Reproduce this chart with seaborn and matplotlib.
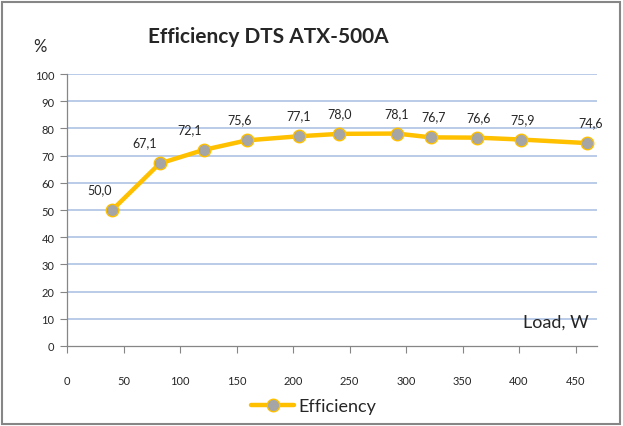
import matplotlib
matplotlib.use("Agg")
import matplotlib.pyplot as plt
import seaborn as sns
import pandas as pd
from matplotlib.patches import Rectangle

# Data
load_w = [40, 82, 121, 159, 205, 241, 292, 322, 363, 402, 460]
efficiency = [50.0, 67.1, 72.1, 75.6, 77.1, 78.0, 78.1, 76.7, 76.6, 75.9, 74.6]
series_name = "Efficiency"
x_ticks = [0, 50, 100, 150, 200, 250, 300, 350, 400, 450]
y_ticks = [0, 10, 20, 30, 40, 50, 60, 70, 80, 90, 100]

# label horizontal nudges (points), layout only
label_dx = [-9, -11, -10, -5, 0, 0, 0, 2, 1, 1, 3]

df = pd.DataFrame({"Load": load_w, "Efficiency": efficiency})

sns.set_style("white")
plt.rcParams["font.family"] = ["Lato", "DejaVu Sans"]

fig = plt.figure(figsize=(6.23, 4.27), dpi=100)
ax = fig.add_axes([67/623, 1-347/427, (597-67)/623, (347-75)/427])

gold = "#FFC000"
sns.lineplot(data=df, x="Load", y="Efficiency", ax=ax, color=gold, lw=3.2,
             marker="o", markersize=9, markerfacecolor="#A5A5A5",
             markeredgecolor=gold, markeredgewidth=1.0, label=series_name,
             zorder=3)

ax.set_xlim(0, 469)
ax.set_ylim(0, 100)
ax.set_xticks(x_ticks)
ax.set_yticks(y_ticks)
ax.set_xticklabels([str(t) for t in x_ticks], fontsize=8)
ax.set_yticklabels([str(t) for t in y_ticks], fontsize=8)
ax.set_xlabel("")
ax.set_ylabel("")

for y in y_ticks[1:]:
    ax.axhline(y, color="#B4C7E7", lw=1.3, zorder=1)

for s in ["top", "right"]:
    ax.spines[s].set_visible(False)
for s in ["left", "bottom"]:
    ax.spines[s].set_color("#868686")
    ax.spines[s].set_linewidth(0.9)

ax.tick_params(axis="y", direction="out", length=5, width=0.8, color="#868686", pad=4, left=True)
ax.tick_params(axis="x", direction="out", length=5, width=0.8, color="#868686", pad=16, bottom=True)

for xv, yv, dx in zip(load_w, efficiency, label_dx):
    ax.annotate(f"{yv:.1f}".replace(".", ","), (xv, yv), xytext=(dx, 15),
                textcoords="offset points", ha="center", va="center", fontsize=9)

ax.legend(loc="center", bbox_to_anchor=(0.465, -0.22), frameon=False,
          fontsize=13, handlelength=2.4, handletextpad=0.2)

fig.text(268/623, 1-37/427, "Efficiency DTS ATX-500A", ha="center", va="center",
         fontsize=15, fontweight="bold")
fig.text(40/623, 1-47/427, "%", ha="center", va="center", fontsize=12)
ax.text(0.985, 0.09, "Load, W", transform=ax.transAxes, ha="right", va="center", fontsize=13)

fig.patches.append(Rectangle((2/623, 2/427), 618/623, 422/427, transform=fig.transFigure,
                             fill=False, edgecolor="#868686", lw=1.5))

fig.savefig("out.png", dpi=100)
